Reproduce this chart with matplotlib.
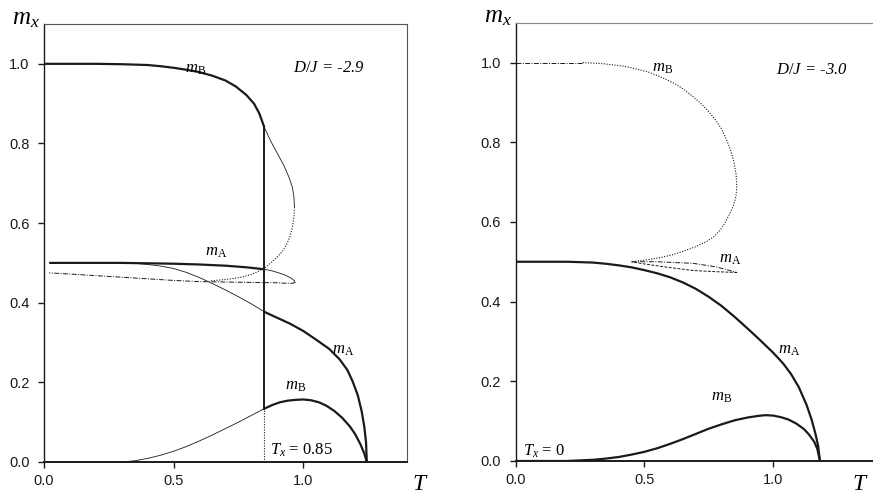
import matplotlib
matplotlib.use("Agg")
import matplotlib.pyplot as plt

plt.rcParams['font.family'] = ['Liberation Sans', 'DejaVu Sans']
plt.rcParams['mathtext.fontset'] = 'custom'
plt.rcParams['mathtext.rm'] = 'Liberation Serif'
plt.rcParams['mathtext.it'] = 'Liberation Serif:italic'

INK = '#1a1a1a'

# ---- left panel, D/J = -2.9 ----
L_mB_top_T = [0.0, 0.1, 0.2, 0.3, 0.4, 0.45, 0.5, 0.55, 0.6, 0.65, 0.7, 0.74, 0.78, 0.81, 0.83, 0.85]
L_mB_top_m = [1.0, 1.0, 1.0, 0.999, 0.997, 0.994, 0.99, 0.985, 0.979, 0.97, 0.958, 0.943, 0.922, 0.9, 0.876, 0.84]
L_mB_meta_T = [0.85, 0.875, 0.9, 0.925, 0.945, 0.958, 0.964, 0.966]
L_mB_meta_m = [0.84, 0.805, 0.775, 0.745, 0.715, 0.69, 0.665, 0.64]
L_mB_unst_T = [0.966, 0.964, 0.958, 0.948, 0.935, 0.918, 0.9, 0.88, 0.857, 0.83, 0.8,
               0.76, 0.72, 0.68, 0.64]
L_mB_unst_m = [0.64, 0.615, 0.59, 0.565, 0.545, 0.528, 0.515, 0.503, 0.49, 0.48, 0.471,
               0.464, 0.46, 0.457, 0.455]
L_mA_top_T = [0.02, 0.3, 0.5, 0.6, 0.7, 0.78, 0.85]
L_mA_top_m = [0.5, 0.5, 0.498, 0.496, 0.493, 0.489, 0.484]
L_loop_T = [0.85, 0.88, 0.91, 0.935, 0.955, 0.966, 0.968, 0.96, 0.93, 0.9, 0.8, 0.7,
            0.6, 0.5, 0.4, 0.3, 0.2, 0.1, 0.02]
L_loop_m = [0.484, 0.48, 0.474, 0.468, 0.461, 0.455, 0.451, 0.449, 0.449, 0.45, 0.451,
            0.452, 0.453, 0.456, 0.46, 0.464, 0.468, 0.472, 0.475]
L_mA_meta_T = [0.3, 0.35, 0.4, 0.45, 0.5, 0.55, 0.6, 0.65, 0.7, 0.75, 0.8, 0.85]
L_mA_meta_m = [0.5, 0.499, 0.496, 0.492, 0.486, 0.476, 0.463, 0.448, 0.432, 0.415, 0.397, 0.377]
L_mA_T = [0.85, 0.9, 0.95, 1.0, 1.05, 1.1, 1.14, 1.17, 1.19, 1.21, 1.225, 1.235, 1.242, 1.245]
L_mA_m = [0.377, 0.362, 0.347, 0.329, 0.307, 0.284, 0.258, 0.231, 0.203, 0.168, 0.128,
          0.09, 0.05, 0.0]
L_mB_low_meta_T = [0.3, 0.35, 0.4, 0.45, 0.5, 0.55, 0.6, 0.65, 0.7, 0.75, 0.8, 0.85]
L_mB_low_meta_m = [0.0, 0.003, 0.009, 0.017, 0.027, 0.039, 0.053, 0.068, 0.084, 0.1, 0.117, 0.134]
L_mB_low_T = [0.85, 0.88, 0.91, 0.94, 0.97, 1.0, 1.03, 1.06, 1.09, 1.12, 1.15, 1.18,
              1.2, 1.22, 1.235, 1.245]
L_mB_low_m = [0.134, 0.143, 0.15, 0.154, 0.156, 0.157, 0.155, 0.15, 0.141, 0.128, 0.111,
              0.089, 0.07, 0.045, 0.022, 0.0]
Tx_left = 0.85

# ---- right panel, D/J = -3.0 ----
R_mB_top_T = [0.0, 0.26]
R_mB_top_m = [1.0, 1.0]
R_mB_unst_T = [0.26, 0.34, 0.418, 0.47, 0.52, 0.57, 0.612, 0.65, 0.69, 0.72, 0.75, 0.78,
               0.8, 0.82, 0.835, 0.848, 0.856, 0.859, 0.856, 0.848, 0.835, 0.815, 0.795,
               0.77, 0.74, 0.7, 0.65, 0.6, 0.55, 0.5, 0.45]
R_mB_unst_m = [1.0, 0.997, 0.991, 0.984, 0.975, 0.962, 0.949, 0.934, 0.914, 0.897, 0.877,
               0.853, 0.833, 0.805, 0.78, 0.75, 0.72, 0.69, 0.665, 0.645, 0.625, 0.6,
               0.58, 0.563, 0.55, 0.538, 0.526, 0.516, 0.509, 0.504, 0.5]
R_loop_up_T = [0.45, 0.55, 0.69, 0.78, 0.86]
R_loop_up_m = [0.5, 0.5, 0.496, 0.487, 0.473]
R_loop_lo_T = [0.86, 0.78, 0.69, 0.58, 0.495, 0.45]
R_loop_lo_m = [0.473, 0.475, 0.478, 0.487, 0.495, 0.5]
R_mA_T = [0.0, 0.2, 0.3, 0.35, 0.4, 0.45, 0.5, 0.55, 0.6, 0.65, 0.7, 0.75, 0.8, 0.85,
          0.9, 0.95, 1.0, 1.04, 1.07, 1.1, 1.13, 1.15, 1.165, 1.175, 1.182]
R_mA_m = [0.5, 0.5, 0.498, 0.495, 0.491, 0.486, 0.479, 0.471, 0.461, 0.448, 0.432, 0.412,
          0.389, 0.362, 0.333, 0.303, 0.272, 0.244, 0.218, 0.185, 0.141, 0.103, 0.067,
          0.038, 0.0]
R_mB_T = [0.0, 0.2, 0.3, 0.35, 0.4, 0.45, 0.5, 0.55, 0.6, 0.65, 0.7, 0.75, 0.8, 0.85,
          0.9, 0.94, 0.97, 1.0, 1.03, 1.06, 1.09, 1.12, 1.14, 1.16, 1.172, 1.182]
R_mB_m = [0.0, 0.0, 0.003, 0.006, 0.01, 0.016, 0.023, 0.032, 0.043, 0.055, 0.068, 0.081,
          0.092, 0.102, 0.109, 0.113, 0.115, 0.114, 0.11, 0.104, 0.094, 0.08, 0.066,
          0.048, 0.03, 0.0]

xticks = [0.0, 0.5, 1.0]
yticks = [0.0, 0.2, 0.4, 0.6, 0.8, 1.0]

fig = plt.figure(figsize=(8.73, 4.95), dpi=100)
axL = fig.add_axes([0.0504, 0.0667, 0.4158, 0.8848])
axR = fig.add_axes([0.5907, 0.0687, 0.4128, 0.8855])

thick = dict(color=INK, lw=1.6, solid_capstyle='butt', solid_joinstyle='round')
thin = dict(color=INK, lw=0.6)
dotted = dict(color=INK, lw=0.8, ls=(0, (1, 1.4)))
dashdot = dict(color=INK, lw=0.7, ls=(0, (5, 1.5, 1, 1.5)))
dashed = dict(color=INK, lw=0.7, ls=(0, (3, 1.5)))

# left
axL.plot(L_mB_top_T, L_mB_top_m, **thick)
axL.plot(L_mB_meta_T, L_mB_meta_m, **thin)
axL.plot(L_mB_unst_T, L_mB_unst_m, **dotted)
axL.plot(L_mA_top_T, L_mA_top_m, **thick)
axL.plot(L_loop_T[:7], L_loop_m[:7], **thin)
axL.plot(L_loop_T[6:], L_loop_m[6:], **dashdot)
axL.plot(L_mA_meta_T, L_mA_meta_m, **thin)
axL.plot(L_mA_T, L_mA_m, **thick)
axL.plot(L_mB_low_meta_T, L_mB_low_meta_m, **thin)
axL.plot(L_mB_low_T, L_mB_low_m, **thick)
axL.plot([Tx_left, Tx_left], [L_mB_low_m[0], L_mB_top_m[-1]], color=INK, lw=1.4)
axL.plot([Tx_left, Tx_left], [0, L_mB_low_m[0]], **dotted)

# right
axR.plot(R_mB_top_T, R_mB_top_m, **dashdot)
axR.plot(R_mB_unst_T, R_mB_unst_m, **dotted)
axR.plot(R_loop_up_T, R_loop_up_m, **dashdot)
axR.plot(R_loop_lo_T, R_loop_lo_m, **dashed)
axR.plot(R_mA_T, R_mA_m, **thick)
axR.plot(R_mB_T, R_mB_m, **thick)

for ax in (axL, axR):
    ax.set_xlim(0, 1.4)
    ax.set_ylim(0, 1.1)
    ax.set_xticks(xticks)
    ax.set_yticks(yticks)
    ax.set_xticklabels(['%.1f' % v for v in xticks])
    ax.set_yticklabels(['%.1f' % v for v in yticks])
    ax.tick_params(axis='both', direction='out', length=4.5, width=1.0,
                   labelsize=10.5, colors=INK)
    ax.tick_params(axis='y', pad=6)
    ax.tick_params(axis='x', pad=4)
    ax.spines['left'].set_linewidth(1.0)
    ax.spines['bottom'].set_linewidth(1.4)
    for s in ax.spines.values():
        s.set_color(INK)
    ax.text(-0.088, 1.0, r'$m_x$', transform=ax.transAxes, fontsize=18,
            ha='left', va='baseline')

axL.spines['top'].set_color('#555555')
axL.spines['right'].set_color('#555555')
axR.spines['right'].set_visible(False)
axR.spines['top'].set_color('#888888')

axL.text(1.015, -0.064, r'$T$', transform=axL.transAxes, fontsize=17,
         ha='left', va='baseline')
axR.text(0.934, -0.066, r'$T$', transform=axR.transAxes, fontsize=17,
         ha='left', va='baseline')

lab = 12
axL.text(0.96, 0.99, r'$D/J$ = -2.9', fontsize=lab, style='italic',
         family='Liberation Serif', va='center')
axL.text(0.545, 0.985, r'$m_{\mathrm{B}}$', fontsize=lab, va='center')
axL.text(0.62, 0.525, r'$m_{\mathrm{A}}$', fontsize=lab, va='center')
axL.text(1.11, 0.28, r'$m_{\mathrm{A}}$', fontsize=lab, va='center')
axL.text(0.93, 0.19, r'$m_{\mathrm{B}}$', fontsize=lab, va='center')
axL.text(0.87, 0.03, r'$T_x$ = 0.85', fontsize=lab, family='Liberation Serif',
         va='center')

axR.text(1.01, 0.98, r'$D/J$ = -3.0', fontsize=lab, style='italic',
         family='Liberation Serif', va='center')
axR.text(0.53, 0.985, r'$m_{\mathrm{B}}$', fontsize=lab, va='center')
axR.text(0.79, 0.505, r'$m_{\mathrm{A}}$', fontsize=lab, va='center')
axR.text(1.02, 0.278, r'$m_{\mathrm{A}}$', fontsize=lab, va='center')
axR.text(0.76, 0.16, r'$m_{\mathrm{B}}$', fontsize=lab, va='center')
axR.text(0.03, 0.025, r'$T_x$ = 0', fontsize=lab, family='Liberation Serif',
         va='center')

fig.savefig('out.png', dpi=100)
